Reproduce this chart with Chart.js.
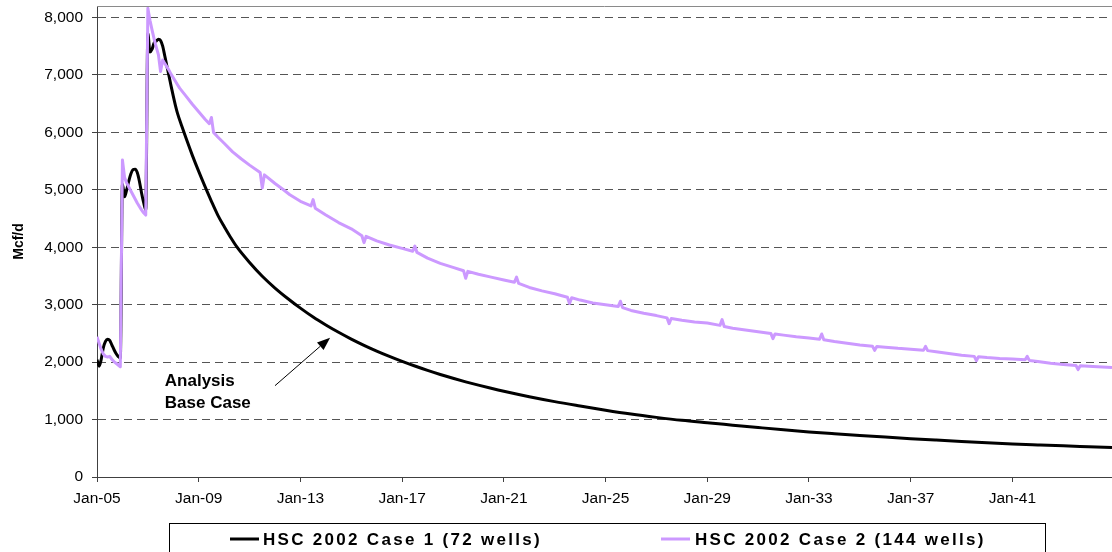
<!DOCTYPE html>
<html>
<head>
<meta charset="utf-8">
<script src="https://cdn.jsdelivr.net/npm/chart.js@4.4.1/dist/chart.umd.min.js"></script>
<style>
  html, body { margin: 0; padding: 0; background: #fff; }
  #wrap { position: relative; width: 1112px; height: 552px; }
</style>
</head>
<body>
<div id="wrap"><canvas id="prodChart"></canvas></div>
<script>
// x = months after Jan-05 (0 = Jan-05), y = Mcf/d
const tickLabels = ['Jan-05', 'Jan-09', 'Jan-13', 'Jan-17', 'Jan-21', 'Jan-25', 'Jan-29', 'Jan-33', 'Jan-37', 'Jan-41'];
const tickMonths = [0, 48, 96, 144, 192, 240, 288, 336, 384, 432];
const yTicks = [0, 1000, 2000, 3000, 4000, 5000, 6000, 7000, 8000];

const seriesNames = ['HSC 2002 Case 1 (72 wells)', 'HSC 2002 Case 2 (144 wells)'];
const seriesColors = ['#000000', '#cc99ff'];

// Case 1 (72 wells) - black
const case1Months = [
    0, 1, 2, 3, 4, 5, 6, 7, 8, 9, 10, 11,
    12, 13, 14, 15, 16, 17, 18, 19, 20, 21, 22, 23,
    24, 25, 26, 27, 28, 29, 30, 31, 32, 33, 34, 35, 36, 37, 38,
    40, 42, 45, 48, 51, 54, 57, 60, 63, 66, 72, 78, 84, 90, 96,
    102, 108, 114, 120, 126, 132, 138, 144, 150, 156, 162, 168, 174, 180, 186, 192,
    204, 216, 228, 240, 252, 264, 276, 288, 300, 312, 324, 336, 348, 360,
    372, 384, 396, 408, 420, 432, 444, 456, 468, 479
];
const case1Values = [
    2040, 1930, 2050, 2250, 2360, 2400, 2380, 2300, 2220, 2150, 2100, 2070,
    5100, 4880, 5000, 5150, 5280, 5350, 5360, 5300, 5150, 4950, 4780, 4650,
    7720, 7400, 7450, 7560, 7590, 7620, 7600, 7500, 7330, 7150, 6980, 6800, 6630, 6470, 6330,
    6110, 5900, 5600, 5320, 5055, 4800, 4560, 4360, 4175, 4005, 3735, 3495, 3290, 3108, 2940,
    2785, 2647, 2519, 2401, 2293, 2193, 2100, 2013, 1932, 1856, 1785, 1719, 1657, 1599, 1544, 1492,
    1397, 1312, 1236, 1163, 1096, 1038, 986, 944, 903, 862, 822, 785, 753, 723,
    695, 668, 643, 619, 596, 575, 558, 542, 528, 515
];

// Case 2 (144 wells) - lavender
const case2Months = [
    0, 1, 2, 3, 4, 5, 6, 7, 8, 9, 10, 11,
    12, 13, 14, 15, 16, 17, 18, 19, 20, 21, 22, 23,
    24, 25, 26, 27, 28, 29, 30, 31, 32, 33, 34, 35, 36, 37, 38, 39,
    42, 45, 48, 51, 53, 54, 55, 57, 60, 64, 68, 72, 77, 78, 79, 84, 88, 91, 96,
    101, 102, 103, 108, 114, 120, 125, 126, 127, 132, 138, 144, 149, 150, 151,
    156, 162, 168, 173, 174, 175, 180, 186, 192, 197, 198, 199,
    204, 210, 216, 222, 223, 224, 228, 234, 240, 246, 247, 248,
    252, 258, 264, 269, 270, 271, 276, 282, 288, 294, 295, 296,
    300, 306, 312, 318, 319, 320, 324, 330, 336, 341, 342, 343,
    348, 354, 360, 366, 367, 368, 372, 378, 384, 390, 391, 392,
    396, 402, 408, 414, 415, 416, 420, 426, 432, 438, 439, 440,
    444, 450, 456, 462, 463, 464, 470, 479
];
const case2Values = [
    2440, 2330, 2220, 2140, 2100, 2090, 2100, 2050, 2010, 1980, 1950, 1920,
    5520, 5220, 5120, 5050, 4980, 4910, 4840, 4770, 4710, 4650, 4600, 4560,
    8160, 7950, 7780, 7620, 7480, 7350, 7060, 7260, 7200, 7140, 7080, 7010, 6950, 6890, 6830, 6770,
    6630, 6490, 6360, 6230, 6150, 6260, 6000, 5920, 5810, 5660, 5540, 5430, 5300, 5030, 5260, 5110, 5000, 4915, 4800,
    4720, 4830, 4680, 4560, 4430, 4320, 4200, 4080, 4190, 4110, 4040, 3980, 3930, 4020, 3910,
    3810, 3720, 3650, 3590, 3460, 3580, 3530, 3480, 3430, 3390, 3480, 3370,
    3300, 3240, 3190, 3130, 3020, 3120, 3080, 3030, 3000, 2970, 3060, 2950,
    2900, 2850, 2810, 2770, 2670, 2760, 2730, 2700, 2680, 2640, 2740, 2620,
    2590, 2560, 2530, 2500, 2410, 2490, 2470, 2440, 2420, 2400, 2490, 2390,
    2360, 2330, 2300, 2275, 2205, 2270, 2260, 2240, 2225, 2205, 2275, 2200,
    2180, 2150, 2120, 2100, 2025, 2095, 2080, 2065, 2055, 2040, 2100, 2030,
    2010, 1980, 1960, 1940, 1870, 1935, 1925, 1905
];

// "Analysis Base Case" note, in data units [month, Mcf/d]
const noteLines = ['Analysis', 'Base Case'];
const noteAt = [32, 1590];
const arrowFrom = [84, 1590];
const arrowTo = [110, 2425];

const FONT = '"Liberation Sans", Arial, Helvetica, sans-serif';
Chart.defaults.font.family = FONT;
Chart.defaults.color = '#000';

function toPoints(xs, ys) {
    return xs.map((x, i) => ({ x: x, y: ys[i] }));
}

// kill the auto padding chart.js adds for the first/last labels
function noPad(scale) {
    scale.paddingTop = 0;
    scale.paddingBottom = 0;
    scale.paddingLeft = 0;
    scale.paddingRight = 0;
}

// top border of the plot + annotation with arrow
const plotExtras = {
    id: 'plotExtras',
    afterDatasetsDraw(chart) {
        const { ctx, chartArea, scales } = chart;
        ctx.save();

        ctx.strokeStyle = '#8a8a8a';
        ctx.lineWidth = 1;
        ctx.beginPath();
        ctx.moveTo(chartArea.left, chartArea.top + 0.5);
        ctx.lineTo(chartArea.right, chartArea.top + 0.5);
        ctx.stroke();

        // note text
        const tx = scales.x.getPixelForValue(noteAt[0]);
        const ty = scales.y.getPixelForValue(noteAt[1]);
        ctx.fillStyle = '#000';
        ctx.font = 'bold 17px ' + FONT;
        ctx.textBaseline = 'alphabetic';
        noteLines.forEach((line, i) => ctx.fillText(line, tx, ty + i * 22.5));

        // arrow
        const x1 = scales.x.getPixelForValue(arrowFrom[0]);
        const y1 = scales.y.getPixelForValue(arrowFrom[1]);
        const x2 = scales.x.getPixelForValue(arrowTo[0]);
        const y2 = scales.y.getPixelForValue(arrowTo[1]);
        const ang = Math.atan2(y2 - y1, x2 - x1);
        const head = 13, half = 5;
        const bx = x2 - head * Math.cos(ang), by = y2 - head * Math.sin(ang);
        ctx.strokeStyle = '#000';
        ctx.lineWidth = 1;
        ctx.beginPath();
        ctx.moveTo(x1, y1);
        ctx.lineTo(bx, by);
        ctx.stroke();
        ctx.beginPath();
        ctx.moveTo(x2, y2);
        ctx.lineTo(bx + half * Math.sin(ang), by - half * Math.cos(ang));
        ctx.lineTo(bx - half * Math.sin(ang), by + half * Math.cos(ang));
        ctx.closePath();
        ctx.fill();

        ctx.restore();
    }
};

// boxed legend under the axis (cut by the bottom edge like the original)
const boxLegend = {
    id: 'boxLegend',
    afterDraw(chart) {
        const ctx = chart.ctx;
        ctx.save();
        ctx.strokeStyle = '#000';
        ctx.lineWidth = 1;
        ctx.strokeRect(169.5, 523.5, 876, 40);

        ctx.font = 'bold 17px ' + FONT;
        if ('letterSpacing' in ctx) ctx.letterSpacing = '2.3px';
        ctx.textBaseline = 'alphabetic';
        const items = [[230, 263], [661, 695]];
        items.forEach(([lx, tx], i) => {
            ctx.strokeStyle = seriesColors[i];
            ctx.lineWidth = 3;
            ctx.beginPath();
            ctx.moveTo(lx, 539);
            ctx.lineTo(lx + 29, 539);
            ctx.stroke();
            ctx.fillStyle = '#000';
            ctx.fillText(seriesNames[i], tx, 545);
        });
        ctx.restore();
    }
};

const tickFont = { size: 15.5 };

new Chart(document.getElementById('prodChart'), {
    type: 'line',
    data: {
        datasets: [
            {
                label: seriesNames[0],
                data: toPoints(case1Months, case1Values),
                borderColor: seriesColors[0],
                borderWidth: 3,
                pointRadius: 0,
                cubicInterpolationMode: 'monotone',
                order: 1
            },
            {
                label: seriesNames[1],
                data: toPoints(case2Months, case2Values),
                borderColor: seriesColors[1],
                borderWidth: 3,
                borderJoinStyle: 'round',
                pointRadius: 0,
                tension: 0,
                order: 0
            }
        ]
    },
    plugins: [plotExtras, boxLegend],
    options: {
        responsive: true,
        maintainAspectRatio: false,
        animation: false,
        layout: { padding: { top: 6, right: 0, bottom: 45, left: 0 } },
        plugins: {
            legend: { display: false },
            tooltip: { enabled: false }
        },
        scales: {
            x: {
                type: 'linear',
                min: 0,
                max: 479,
                bounds: 'data',
                afterBuildTicks: (scale) => { scale.ticks = tickMonths.map(v => ({ value: v })); },
                ticks: {
                    autoSkip: false,
                    maxRotation: 0,
                    padding: 7,
                    font: tickFont,
                    callback: (v) => tickLabels[tickMonths.indexOf(v)]
                },
                grid: { drawOnChartArea: false, tickLength: 5, color: '#404040', tickColor: '#404040' },
                border: { color: '#404040', width: 1 },
                afterFit: (scale) => { scale.height = 30; noPad(scale); }
            },
            y: {
                min: 0,
                max: 8200,
                bounds: 'data',
                afterBuildTicks: (scale) => { scale.ticks = yTicks.map(v => ({ value: v })); },
                ticks: {
                    padding: 9,
                    font: tickFont,
                    callback: (v) => v.toLocaleString('en-US')
                },
                grid: { color: '#555', lineWidth: 1, tickLength: 5, tickColor: '#404040', tickBorderDash: [] },
                border: { color: '#404040', width: 1, dash: [8, 5] },
                title: {
                    display: true,
                    text: 'Mcf/d',
                    font: { size: 14, weight: 'bold' },
                    padding: { top: 11, bottom: 0 }
                },
                afterFit: (scale) => { scale.width = 97; noPad(scale); }
            }
        }
    }
});
</script>
</body>
</html>
